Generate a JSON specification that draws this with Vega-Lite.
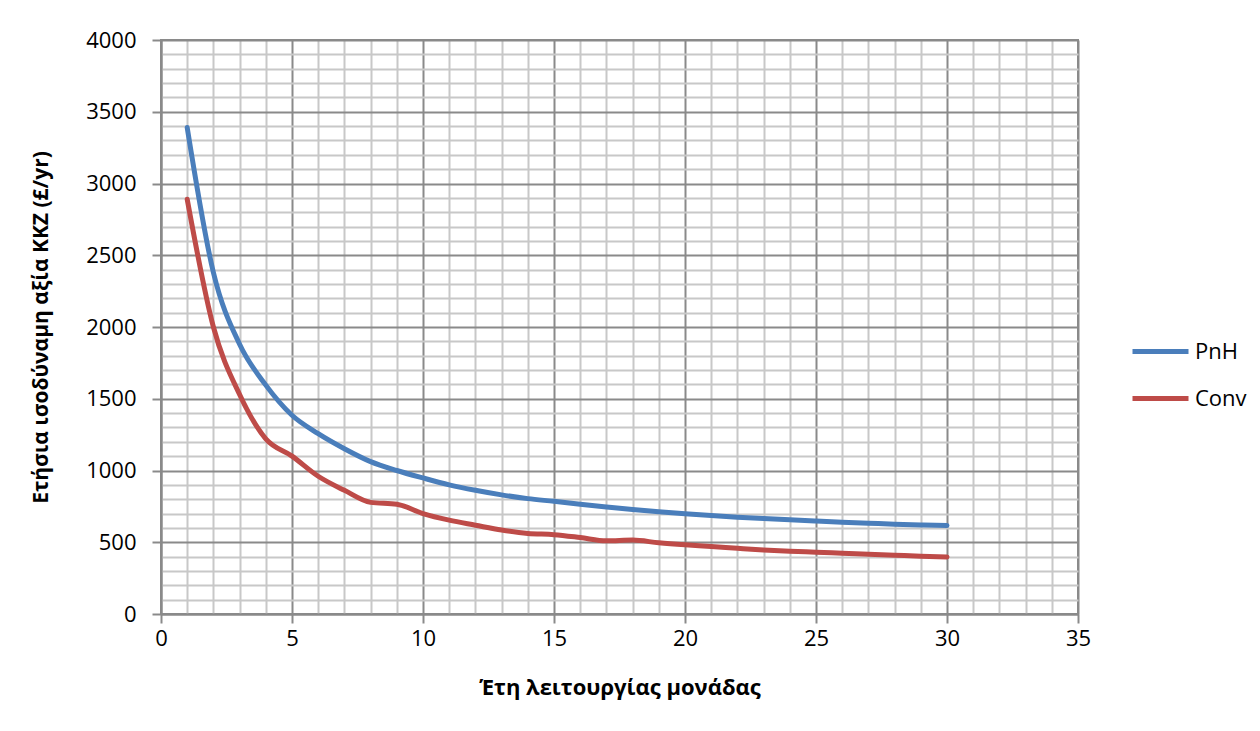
{
  "$schema": "https://vega.github.io/schema/vega-lite/v6.json",
  "width": 917,
  "height": 574,
  "autosize": {"type": "none"},
  "padding": {"left": 161, "top": 40, "right": 182, "bottom": 117},
  "background": "white",
  "config": {
    "view": {"stroke": "#8a8a8a", "strokeWidth": 2},
    "font": "Open Sans",
    "axis": {
      "labelFont": "Open Sans",
      "labelFontSize": 22,
      "labelColor": "#000000",
      "titleFont": "Open Sans",
      "titleFontWeight": "bold",
      "titleColor": "#000000",
      "domainColor": "#8a8a8a",
      "domainWidth": 2,
      "gridWidth": 2,
      "tickSize": 9,
      "tickWidth": 2,
      "labelOverlap": false,
      "labelFlush": false
    }
  },
  "data": {
    "values": [
      {"year": 1, "series": "PnH", "value": 3390},
      {"year": 2, "series": "PnH", "value": 2380},
      {"year": 3, "series": "PnH", "value": 1880},
      {"year": 4, "series": "PnH", "value": 1595},
      {"year": 5, "series": "PnH", "value": 1385},
      {"year": 6, "series": "PnH", "value": 1257},
      {"year": 7, "series": "PnH", "value": 1152},
      {"year": 8, "series": "PnH", "value": 1062},
      {"year": 9, "series": "PnH", "value": 1000},
      {"year": 10, "series": "PnH", "value": 948},
      {"year": 11, "series": "PnH", "value": 900},
      {"year": 12, "series": "PnH", "value": 862},
      {"year": 13, "series": "PnH", "value": 830},
      {"year": 14, "series": "PnH", "value": 804},
      {"year": 15, "series": "PnH", "value": 785},
      {"year": 16, "series": "PnH", "value": 765},
      {"year": 17, "series": "PnH", "value": 746},
      {"year": 18, "series": "PnH", "value": 728},
      {"year": 19, "series": "PnH", "value": 712},
      {"year": 20, "series": "PnH", "value": 698},
      {"year": 21, "series": "PnH", "value": 686},
      {"year": 22, "series": "PnH", "value": 675},
      {"year": 23, "series": "PnH", "value": 665},
      {"year": 24, "series": "PnH", "value": 656},
      {"year": 25, "series": "PnH", "value": 648},
      {"year": 26, "series": "PnH", "value": 640},
      {"year": 27, "series": "PnH", "value": 633},
      {"year": 28, "series": "PnH", "value": 626},
      {"year": 29, "series": "PnH", "value": 621},
      {"year": 30, "series": "PnH", "value": 617},
      {"year": 1, "series": "Conv", "value": 2890},
      {"year": 2, "series": "Conv", "value": 2000},
      {"year": 3, "series": "Conv", "value": 1530},
      {"year": 4, "series": "Conv", "value": 1220},
      {"year": 5, "series": "Conv", "value": 1100},
      {"year": 6, "series": "Conv", "value": 960},
      {"year": 7, "series": "Conv", "value": 862},
      {"year": 8, "series": "Conv", "value": 778},
      {"year": 9, "series": "Conv", "value": 765},
      {"year": 10, "series": "Conv", "value": 700},
      {"year": 11, "series": "Conv", "value": 654},
      {"year": 12, "series": "Conv", "value": 619},
      {"year": 13, "series": "Conv", "value": 585},
      {"year": 14, "series": "Conv", "value": 561},
      {"year": 15, "series": "Conv", "value": 553},
      {"year": 16, "series": "Conv", "value": 533},
      {"year": 17, "series": "Conv", "value": 510},
      {"year": 18, "series": "Conv", "value": 515},
      {"year": 19, "series": "Conv", "value": 496},
      {"year": 20, "series": "Conv", "value": 482},
      {"year": 21, "series": "Conv", "value": 471},
      {"year": 22, "series": "Conv", "value": 458},
      {"year": 23, "series": "Conv", "value": 446},
      {"year": 24, "series": "Conv", "value": 437},
      {"year": 25, "series": "Conv", "value": 431},
      {"year": 26, "series": "Conv", "value": 424},
      {"year": 27, "series": "Conv", "value": 417},
      {"year": 28, "series": "Conv", "value": 410},
      {"year": 29, "series": "Conv", "value": 403},
      {"year": 30, "series": "Conv", "value": 398}
    ]
  },
  "mark": {"type": "line", "interpolate": "monotone", "strokeWidth": 5, "strokeCap": "round"},
  "encoding": {
    "x": {
      "field": "year",
      "type": "quantitative",
      "title": "Έτη λειτουργίας μονάδας",
      "scale": {"domain": [0, 35], "nice": false, "zero": false},
      "axis": {
        "values": [0,1,2,3,4,5,6,7,8,9,10,11,12,13,14,15,16,17,18,19,20,21,22,23,24,25,26,27,28,29,30,31,32,33,34,35],
        "labelExpr": "datum.value % 5 === 0 ? datum.label : ''",
        "gridColor": {"condition": {"test": "datum.value % 5 === 0", "value": "#8a8a8a"}, "value": "#c8c8c8"},
        "tickColor": {"condition": {"test": "datum.value % 5 === 0", "value": "#8a8a8a"}, "value": "transparent"},
        "labelPadding": 5,
        "titleFontSize": 22,
        "titlePadding": 28
      }
    },
    "y": {
      "field": "value",
      "type": "quantitative",
      "title": "Ετήσια ισοδύναμη αξία ΚΚΖ (£/yr)",
      "scale": {"domain": [0, 4000], "nice": false},
      "axis": {
        "values": [0,100,200,300,400,500,600,700,800,900,1000,1100,1200,1300,1400,1500,1600,1700,1800,1900,2000,2100,2200,2300,2400,2500,2600,2700,2800,2900,3000,3100,3200,3300,3400,3500,3600,3700,3800,3900,4000],
        "labelExpr": "datum.value % 500 === 0 ? datum.label : ''",
        "format": "d",
        "gridColor": {"condition": {"test": "datum.value % 500 === 0", "value": "#8a8a8a"}, "value": "#c8c8c8"},
        "tickColor": {"condition": {"test": "datum.value % 500 === 0", "value": "#8a8a8a"}, "value": "transparent"},
        "labelPadding": 16,
        "titleFontSize": 21,
        "titlePadding": 34
      }
    },
    "color": {
      "field": "series",
      "type": "nominal",
      "scale": {"domain": ["PnH", "Conv"], "range": ["#4a7ebb", "#be4b48"]},
      "legend": {
        "title": null,
        "orient": "none",
        "legendX": 969,
        "legendY": 281,
        "padding": 0,
        "symbolType": "stroke",
        "symbolSize": 3136,
        "symbolStrokeWidth": 5,
        "labelFont": "Open Sans",
        "labelFontSize": 22,
        "labelColor": "#000000",
        "labelOffset": 4,
        "rowPadding": 5
      }
    }
  }
}
